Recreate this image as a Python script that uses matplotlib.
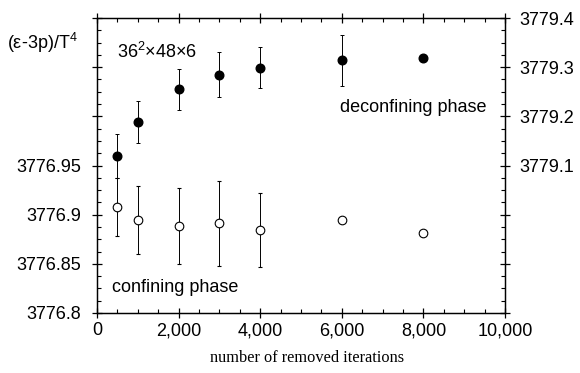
import matplotlib
matplotlib.use("Agg")
import matplotlib.pyplot as plt
from matplotlib.ticker import MultipleLocator, FuncFormatter

plt.rcParams['font.family'] = ['Liberation Sans', 'DejaVu Sans']
plt.rcParams['mathtext.fontset'] = 'custom'
plt.rcParams['mathtext.rm'] = 'Liberation Sans'
plt.rcParams['mathtext.it'] = 'Liberation Sans:italic'

# data
removed = [500, 1000, 2000, 3000, 4000, 6000, 8000]
confining = [3776.9075, 3776.8946, 3776.8885, 3776.8912, 3776.8844, 3776.8946, 3776.8817]
confining_err = [0.0297, 0.0347, 0.0385, 0.0430, 0.0375, 0.0, 0.0]
deconfining = [3779.119, 3779.188, 3779.255, 3779.285, 3779.299, 3779.314, 3779.319]
deconfining_err = [0.0447, 0.0423, 0.0417, 0.0464, 0.0420, 0.0520, 0.0]

fig = plt.figure(figsize=(5.8, 3.73), dpi=100)
ax = fig.add_axes([0.1672, 0.1609, 0.7035, 0.7908])
ax2 = ax.twinx()

ax.set_xlim(0, 10000)
ax.set_ylim(3776.8, 3777.1)
ax2.set_ylim(3778.8, 3779.4)

ax.errorbar(removed, confining, yerr=confining_err, fmt='o', ms=6.2,
            mfc='white', mec='black', mew=0.8, ecolor='black', elinewidth=0.7,
            capsize=1.5, capthick=0.7, zorder=3)
ax2.errorbar(removed, deconfining, yerr=deconfining_err, fmt='o', ms=6.2,
             mfc='black', mec='black', ecolor='black', elinewidth=0.7,
             capsize=1.5, capthick=0.7, zorder=3)

ax.xaxis.set_major_locator(MultipleLocator(2000))
ax.xaxis.set_minor_locator(MultipleLocator(500))
ax.xaxis.set_major_formatter(FuncFormatter(lambda v, p: f"{int(v):,}"))
ax.yaxis.set_major_locator(MultipleLocator(0.05))
ax.yaxis.set_minor_locator(MultipleLocator(0.0125))
ax.yaxis.set_major_formatter(FuncFormatter(
    lambda v, p: (f"{v:.2f}".rstrip('0') if v < 3776.96 else '')))
ax2.yaxis.set_major_locator(MultipleLocator(0.1))
ax2.yaxis.set_minor_locator(MultipleLocator(0.025))
ax2.yaxis.set_major_formatter(FuncFormatter(
    lambda v, p: (f"{v:.1f}" if v > 3779.05 else '')))

ax.tick_params(axis='x', which='both', top=True, labelsize=13)
ax.tick_params(axis='y', which='both', right=False, labelsize=13)
ax2.tick_params(axis='y', which='both', labelsize=13)
for a in (ax, ax2):
    a.tick_params(which='major', direction='inout', length=7, width=0.9)
    a.tick_params(which='minor', direction='in', length=3, width=0.8)
ax.tick_params(axis='x', which='major', pad=3)
ax.tick_params(axis='y', which='major', pad=8)
ax2.tick_params(axis='y', which='major', pad=7)
for a in (ax, ax2):
    for s in a.spines.values():
        s.set_linewidth(0.9)

ax.set_xlabel('number of removed iterations', family='Liberation Serif',
              fontsize=11.8, va='center')
ax.xaxis.set_label_coords(0.515, -0.153)

fig.text(0.012, 0.885, r'($\mathrm{\varepsilon}$-3p)/T$^4$', fontsize=13, va='center')
ax.text(0.05, 0.885, r'36$^2$×48×6', transform=ax.transAxes, fontsize=13, va='center')
ax.text(0.595, 0.695, 'deconfining phase', transform=ax.transAxes, fontsize=13, va='center')
ax.text(0.037, 0.085, 'confining phase', transform=ax.transAxes, fontsize=13, va='center')

fig.savefig('out.png', dpi=100)
